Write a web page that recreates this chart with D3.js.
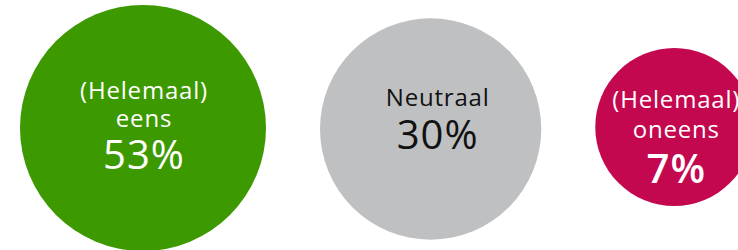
<!DOCTYPE html>
<html>
<head>
<meta charset="utf-8">
<script src="https://cdn.jsdelivr.net/npm/d3@7"></script>
<style>
  html, body { margin: 0; padding: 0; background: #fff; overflow: hidden; }
  svg { display: block; }
</style>
</head>
<body>
<svg id="chart" width="738" height="250"></svg>
<script>
// Data
const categories = ["(Helemaal) eens", "Neutraal", "(Helemaal) oneens"];
const labelLines = [["(Helemaal)", "eens"], ["Neutraal"], ["(Helemaal)", "oneens"]];
const values = [53, 30, 7];

// Styles / layout
const fills = ["#3d9900", "#bfc0c2", "#c4084f"];
const textColors = ["#ffffff", "#111111", "#ffffff"];
const width = 738, height = 250;
const leftEdge = 20, gap = 54;
const cyOffsets = [128, 129, 127];
const textDx = [1, 7, 2];
// baseline offsets relative to circle centre
const lineBaselines = [[-29, -1], [-23], [-19, 11]];
const valueBaselines = [41, 20, 56];
const fontFamily = "'Open Sans', sans-serif";

const svg = d3.select("#chart");

const r = d3.scaleLog().domain([d3.min(values), d3.max(values)]).range([79, 123]);

// compute centres from radii and gap
const centres = [];
let x = leftEdge;
values.forEach((v, i) => {
  const rad = r(v);
  centres.push(x + rad);
  x += 2 * rad + gap;
});

const g = svg.selectAll("g.bubble")
  .data(values)
  .join("g")
  .attr("class", "bubble")
  .attr("transform", (d, i) => `translate(${centres[i]},${cyOffsets[i]})`);

g.append("circle")
  .attr("r", d => r(d))
  .attr("fill", (d, i) => fills[i]);

g.each(function(d, i) {
  const sel = d3.select(this);
  labelLines[i].forEach((line, j) => {
    sel.append("text")
      .attr("x", textDx[i])
      .attr("y", lineBaselines[i][j])
      .attr("text-anchor", "middle")
      .attr("fill", textColors[i])
      .style("font-family", fontFamily)
      .style("font-size", "24px")
      .style("letter-spacing", "0.8px")
      .text(line);
  });
  sel.append("text")
    .attr("x", textDx[i])
    .attr("y", valueBaselines[i])
    .attr("text-anchor", "middle")
    .attr("fill", textColors[i])
    .style("font-family", fontFamily)
    .style("font-size", "40px")
    .style("font-weight", i === 2 ? 600 : 400)
    .style("letter-spacing", "1px")
    .text(d + "%");
});
</script>
</body>
</html>
